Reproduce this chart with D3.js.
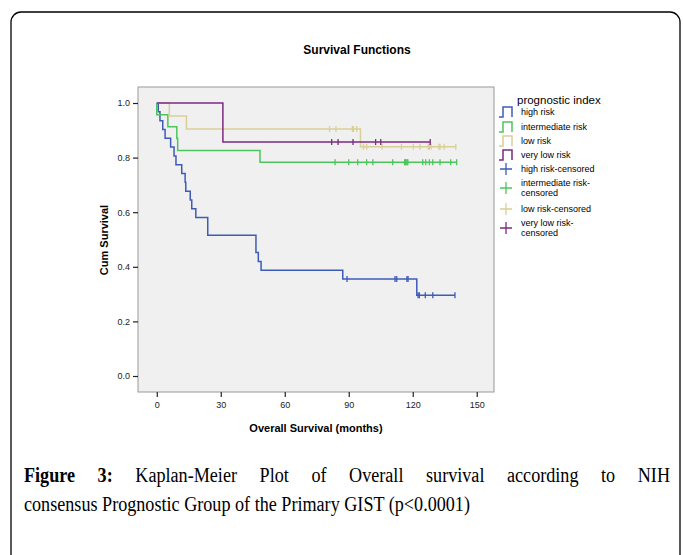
<!DOCTYPE html>
<html>
<head>
<meta charset="utf-8">
<script src="https://cdn.jsdelivr.net/npm/d3@7"></script>
<style>
  body { margin: 0; background: #fff; }
  text { font-family: "Liberation Sans", Arial, sans-serif; }
  text.caption { font-family: "Liberation Serif", "DejaVu Serif", serif; font-size: 20.5px; }
</style>
</head>
<body>
<div id="chart"></div>
<script>
// groups and colours (SPSS style)
var groups = ["high risk", "intermediate risk", "low risk", "very low risk"];
var colors = ["#3e5bb9", "#4cc55c", "#d8d095", "#7e2a80"];

// step times (months) and cumulative survival after each step
var highTimes = [0, 0.7, 1.5, 2.8, 3.9, 6.5, 8.1, 9.0, 11.7, 13.3, 13.6, 15.7, 16.4, 18.3, 23.9, 46.5, 47.6, 48.9, 87.2, 121.9];
var highSurv  = [1.0, 0.968, 0.935, 0.903, 0.871, 0.839, 0.806, 0.774, 0.742, 0.710, 0.677, 0.645, 0.613, 0.581, 0.516, 0.452, 0.419, 0.387, 0.355, 0.296];
var highCens  = [89.2, 111.7, 112.5, 117.3, 117.8, 122.5, 123.1, 125.9, 129.4, 139.8];

var interTimes = [0, 0, 5.2, 9.4, 9.8, 48.4];
var interSurv  = [1.0, 0.957, 0.913, 0.870, 0.826, 0.783];
var interCens  = [83.6, 90, 94.2, 98.4, 101.3, 110.6, 116.2, 116.5, 116.9, 117.3, 117.7, 124.7, 126.1, 127.8, 129.4, 132.8, 137.8, 140.6];

var lowTimes = [0, 5.9, 13.9, 95.5];
var lowSurv  = [1.0, 0.952, 0.905, 0.840];
var lowCens  = [81, 84, 91.7, 92.2, 93.7, 96.9, 98.4, 105.6, 114.7, 120.3, 123.4, 127.3, 127.8, 128.6, 132.3, 132.8, 134.7, 140.2];

var vlowTimes = [0, 31];
var vlowSurv  = [1.0, 0.857];
var vlowCens  = [82, 85, 92, 102.6, 105, 128.2];

var xTicks = [0, 30, 60, 90, 120, 150];
var yTicks = [0, 0.2, 0.4, 0.6, 0.8, 1.0];

var series = [
  {times: highTimes, surv: highSurv, cens: highCens},
  {times: interTimes, surv: interSurv, cens: interCens},
  {times: lowTimes, surv: lowSurv, cens: lowCens},
  {times: vlowTimes, surv: vlowSurv, cens: vlowCens}
];

var W = 683, H = 555;
var plot = {left: 138, right: 494, top: 87, bottom: 392};

var svg = d3.select("#chart").append("svg")
    .attr("width", W)
    .attr("height", H);

// outer rounded frame
svg.append("rect")
    .attr("x", 11).attr("y", 12)
    .attr("width", 669).attr("height", 620)
    .attr("rx", 10)
    .attr("fill", "none")
    .attr("stroke", "#000")
    .attr("stroke-width", 1.3);

// scales
var x = d3.scaleLinear().domain([-8.8, 158.1]).range([plot.left, plot.right]);
var y = d3.scaleLinear().domain([-0.0586, 1.0586]).range([plot.bottom, plot.top]);

// plot background
svg.append("rect")
    .attr("x", plot.left).attr("y", plot.top)
    .attr("width", plot.right - plot.left)
    .attr("height", plot.bottom - plot.top)
    .attr("fill", "#f0f0f0")
    .attr("stroke", "#999")
    .attr("stroke-width", 1);

// title
svg.append("text")
    .attr("x", 357).attr("y", 54)
    .attr("text-anchor", "middle")
    .style("font-size", "12px").style("font-weight", "bold")
    .text("Survival Functions");

// axes
var xAxis = svg.append("g")
    .attr("transform", "translate(0," + plot.bottom + ")")
    .call(d3.axisBottom(x).tickValues(xTicks).tickSize(5).tickPadding(5));
var yAxis = svg.append("g")
    .attr("transform", "translate(" + plot.left + ",0)")
    .call(d3.axisLeft(y).tickValues(yTicks).tickFormat(d3.format(".1f")).tickSize(5).tickPadding(3));
[xAxis, yAxis].forEach(function(a) {
  a.select(".domain").remove();
  a.selectAll("line").attr("stroke", "#222").attr("stroke-width", 1.2);
  a.selectAll("text").attr("fill", "#222").style("font-size", "9px")
      .style("font-family", "'Liberation Sans', Arial, sans-serif");
});

svg.append("text")
    .attr("x", 316).attr("y", 432)
    .attr("text-anchor", "middle")
    .style("font-size", "11px").style("font-weight", "bold")
    .text("Overall Survival (months)");
svg.append("text")
    .attr("transform", "translate(108,240) rotate(-90)")
    .attr("text-anchor", "middle")
    .style("font-size", "11px").style("font-weight", "bold")
    .text("Cum Survival");

// step path builder
function stepPath(s) {
  var end = Math.max(d3.max(s.cens), s.times[s.times.length - 1]);
  var p = d3.path();
  p.moveTo(x(s.times[0]), y(s.surv[0]));
  for (var i = 1; i < s.times.length; i++) {
    p.lineTo(x(s.times[i]), y(s.surv[i - 1]));
    p.lineTo(x(s.times[i]), y(s.surv[i]));
  }
  p.lineTo(x(end), y(s.surv[s.surv.length - 1]));
  return p.toString();
}
function survAt(s, t) {
  var i = d3.bisectRight(s.times, t) - 1;
  return s.surv[Math.max(i, 0)];
}

var curves = svg.append("g");
series.forEach(function(s, i) {
  curves.append("path")
      .attr("d", stepPath(s))
      .attr("fill", "none")
      .attr("stroke", colors[i])
      .attr("stroke-width", 1.5);
  curves.selectAll(null)
      .data(s.cens)
      .enter().append("line")
      .attr("x1", function(d) { return x(d); })
      .attr("x2", function(d) { return x(d); })
      .attr("y1", function(d) { return y(survAt(s, d)) - 3; })
      .attr("y2", function(d) { return y(survAt(s, d)) + 3; })
      .attr("stroke", colors[i])
      .attr("stroke-width", 1.3);
});

// legend
var lg = svg.append("g");
lg.append("text")
    .attr("x", 517).attr("y", 104)
    .style("font-size", "11.5px")
    .text("prognostic index");

var lineItems = [112, 127, 141, 155];
groups.forEach(function(g, i) {
  var cy = lineItems[i];
  lg.append("path")
      .attr("d", "M499," + (cy + 5) + "H503V" + (cy - 5) + "H512V" + (cy + 5))
      .attr("fill", "none")
      .attr("stroke", colors[i])
      .attr("stroke-width", 1.5);
  lg.append("text")
      .attr("x", 521).attr("y", cy + 3)
      .style("font-size", "9px")
      .text(g);
});

var censItems = [
  {cy: 169, lines: ["high risk-censored"]},
  {cy: 188, lines: ["intermediate risk-", "censored"]},
  {cy: 209, lines: ["low risk-censored"]},
  {cy: 228, lines: ["very low risk-", "censored"]}
];
censItems.forEach(function(c, i) {
  lg.append("path")
      .attr("d", "M500," + c.cy + "H512M506," + (c.cy - 6) + "V" + (c.cy + 6))
      .attr("stroke", colors[i])
      .attr("stroke-width", 1.3);
  var t = lg.append("text")
      .attr("x", 521)
      .attr("y", c.cy + 3 - (c.lines.length - 1) * 5)
      .style("font-size", "9px");
  c.lines.forEach(function(l, k) {
    t.append("tspan").attr("x", 521).attr("dy", k ? 10 : 0).text(l);
  });
});

// caption: narrow serif, first line justified
var squeeze = 0.885;
var cap = svg.append("g")
    .attr("transform", "translate(24,0) scale(" + squeeze + ",1)");
var cap1 = cap.append("text").attr("class", "caption").attr("x", 0).attr("y", 482);
cap1.append("tspan").style("font-weight", "bold").text("Figure 3:");
cap1.append("tspan").text(" Kaplan-Meier Plot of Overall survival according to NIH");
var natural = cap1.node().getComputedTextLength();
cap1.style("word-spacing", ((646 / squeeze - natural) / 9) + "px");

cap.append("text").attr("class", "caption")
    .attr("x", 0).attr("y", 511)
    .text("consensus Prognostic Group of the Primary GIST (p<0.0001)");
</script>
</body>
</html>
